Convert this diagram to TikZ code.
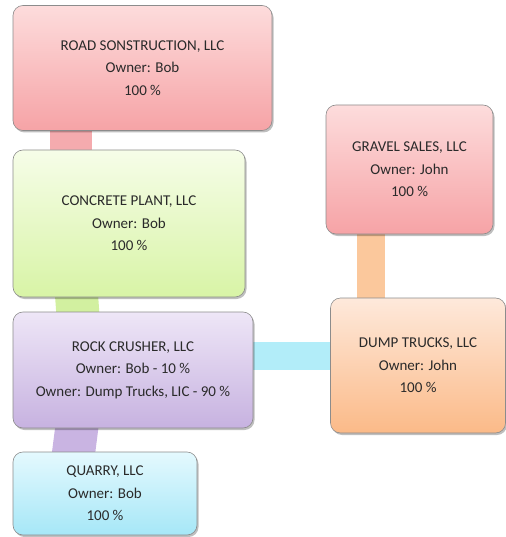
\documentclass[tikz,border=0pt]{standalone}
\usepackage{fontspec}
\setmainfont{Carlito}
\usetikzlibrary{shadows,backgrounds}
\definecolor{pinkT}{HTML}{FDDCDC}
\definecolor{pinkB}{HTML}{F6A3A6}
\definecolor{greenT}{HTML}{F6FDE8}
\definecolor{greenB}{HTML}{D8F4A6}
\definecolor{lavT}{HTML}{EEE6F7}
\definecolor{lavB}{HTML}{C7B2E0}
\definecolor{cyanT}{HTML}{E4F9FE}
\definecolor{cyanB}{HTML}{A6E7F7}
\definecolor{orT}{HTML}{FEE9DB}
\definecolor{orB}{HTML}{FBBA88}
\definecolor{bandpink}{HTML}{F5ABAE}
\definecolor{bandgreen}{HTML}{D2F0A0}
\definecolor{bandlav}{HTML}{C9B4E2}
\definecolor{bandcyan}{HTML}{B2EDF9}
\definecolor{bandor}{HTML}{FBC89C}
\definecolor{txt}{HTML}{2A2A2A}
\definecolor{edge}{HTML}{8C8C8C}
\tikzset{
  box/.style={draw=edge, line width=0.6pt, rounded corners=10pt, align=center,
    inner sep=0pt, font=\fontsize{15}{22.5}\selectfont, text=txt,
    drop shadow={shadow xshift=1.5pt, shadow yshift=-2pt, fill=black, opacity=0.25}},
  band/.style={line width=#1, shorten <=-8pt, shorten >=-8pt},
}
\begin{document}
\begin{tikzpicture}[x=1pt,y=-1pt]
\useasboundingbox (0,0) rectangle (505,537);
\node[box, top color=pinkT, bottom color=pinkB, minimum width=259pt, minimum height=125pt] (road) at (142.5,68)
  {ROAD SONSTRUCTION, LLC\\Owner: Bob\\100 \%};
\node[box, top color=greenT, bottom color=greenB, minimum width=232pt, minimum height=147pt] (conc) at (129,223.5)
  {CONCRETE PLANT, LLC\\Owner: Bob\\100 \%};
\node[box, top color=lavT, bottom color=lavB, minimum width=240pt, minimum height=116pt] (rock) at (133,370)
  {ROCK CRUSHER, LLC\\Owner: Bob - 10 \%\\Owner: Dump Trucks, LIC - 90 \%};
\node[box, top color=cyanT, bottom color=cyanB, minimum width=184pt, minimum height=83pt] (quarry) at (105,493.5)
  {QUARRY, LLC\\Owner: Bob\\100 \%};
\node[box, top color=orT, bottom color=orB, minimum width=175pt, minimum height=135pt] (dump) at (418,365.5)
  {DUMP TRUCKS, LLC\\Owner: John\\100 \%};
\node[box, top color=pinkT, bottom color=pinkB, minimum width=167pt, minimum height=129pt] (gravel) at (409.5,169.5)
  {GRAVEL SALES, LLC\\Owner: John\\100 \%};
\begin{scope}[on background layer]
\draw[band=42pt, bandpink] ([xshift=58pt]road.south west) -- ([xshift=58pt]conc.north west);
\draw[band=43pt, bandgreen] ([xshift=64pt]conc.south west) -- ([xshift=65pt]rock.north west);
\draw[band=43pt, bandlav] ([xshift=64pt]rock.south west) -- ([xshift=61pt]quarry.north west);
\draw[band=28pt, bandcyan] ([yshift=14pt]rock.east) -- ([yshift=14pt]rock.east -| dump.west);
\draw[band=28pt, bandor] ([xshift=45pt]gravel.south west) -- ([xshift=45pt]gravel.south west |- dump.north);
\end{scope}
\end{tikzpicture}
\end{document}
